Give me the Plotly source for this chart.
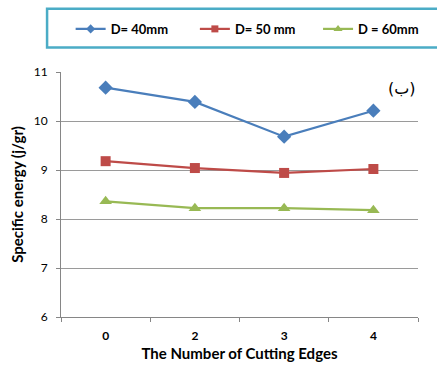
import plotly.graph_objects as go

# Number of cutting edges (categorical axis)
edges = ["0", "2", "3", "4"]

# Specific energy (j/gr) per tool diameter
energy_d40 = [10.68, 10.39, 9.68, 10.21]
energy_d50 = [9.18, 9.04, 8.94, 9.02]
energy_d60 = [8.36, 8.22, 8.22, 8.18]

series_names = ["D= 40mm", "D= 50 mm", "D = 60mm"]
y_ticks = [6, 7, 8, 9, 10, 11]

FONT = "Lato"

styles = [
    dict(color="#4A7EBB", symbol="diamond", size=11, legend_size=7, legend="legend", lx=0.027),
    dict(color="#BE4B48", symbol="square", size=10, legend_size=7, legend="legend2", lx=0.375),
    dict(color="#98B954", symbol="triangle-up", size=11, legend_size=8, legend="legend3", lx=0.72),
]

fig = go.Figure()
for name, values, st in zip(series_names, [energy_d40, energy_d50, energy_d60], styles):
    fig.add_trace(go.Scatter(
        x=edges, y=values, name=name, mode="lines+markers", showlegend=False,
        line=dict(color=st["color"], width=2.2),
        marker=dict(symbol=st["symbol"], size=st["size"], color=st["color"]),
    ))
    # legend key with a smaller marker, one legend per series
    fig.add_trace(go.Scatter(
        x=[None], y=[None], name=name, mode="lines+markers", showlegend=True,
        legend=st["legend"],
        line=dict(color=st["color"], width=2.2),
        marker=dict(symbol=st["symbol"], size=st["legend_size"], color=st["color"]),
    ))

legend_style = dict(
    orientation="h", y=1.237, xanchor="left", yanchor="top",
    font=dict(family=FONT, size=13, color="#000000", weight="bold"),
    borderwidth=0, bgcolor="rgba(0,0,0,0)", itemclick=False,
)

# Frame around the legend
fig.add_shape(
    type="rect", xref="paper", yref="paper",
    x0=-0.039, x1=1.12, y0=1.1, y1=1.258,
    line=dict(color="#4BACC6", width=2.5), fillcolor="rgba(0,0,0,0)",
)

# Panel label
fig.add_annotation(
    text="(ب)", xref="paper", yref="paper", x=1.0, y=0.98,
    xanchor="right", yanchor="top", showarrow=False,
    font=dict(family="DejaVu Sans", size=16, color="#000000"),
    bgcolor="white",
)

fig.update_layout(
    width=437, height=366,
    margin=dict(l=61, r=19, t=72, b=49),
    paper_bgcolor="white", plot_bgcolor="white",
    font=dict(family=FONT, color="#000000"),
    showlegend=True,
    legend=dict(x=styles[0]["lx"], **legend_style),
    legend2=dict(x=styles[1]["lx"], **legend_style),
    legend3=dict(x=styles[2]["lx"], **legend_style),
    xaxis=dict(
        type="category", categoryorder="array", categoryarray=edges,
        range=[-0.5, 3.5], autorange=False, automargin=False,
        showline=True, linecolor="#868686", linewidth=1,
        ticks="outside", tickson="boundaries", ticklen=4, tickcolor="#868686",
        showgrid=False, zeroline=False, ticklabelstandoff=8,
        tickfont=dict(family=FONT, size=12, color="#000000", weight="bold"),
        title=dict(text="The Number of Cutting Edges", standoff=6,
                   font=dict(family=FONT, size=15, color="#000000", weight="bold")),
    ),
    yaxis=dict(
        range=[6, 11], tickvals=y_ticks, autorange=False, automargin=False,
        showline=True, linecolor="#868686", linewidth=1,
        ticks="outside", ticklen=4, tickcolor="#868686",
        showgrid=True, gridcolor="#9A9A9A", gridwidth=1, zeroline=False,
        ticklabelstandoff=6,
        tickfont=dict(family=FONT, size=12, color="#000000"),
        title=dict(text="Specific energy (j/gr)", standoff=6,
                   font=dict(family=FONT, size=15, color="#000000", weight="bold")),
    ),
)

fig.write_html("out.html")
